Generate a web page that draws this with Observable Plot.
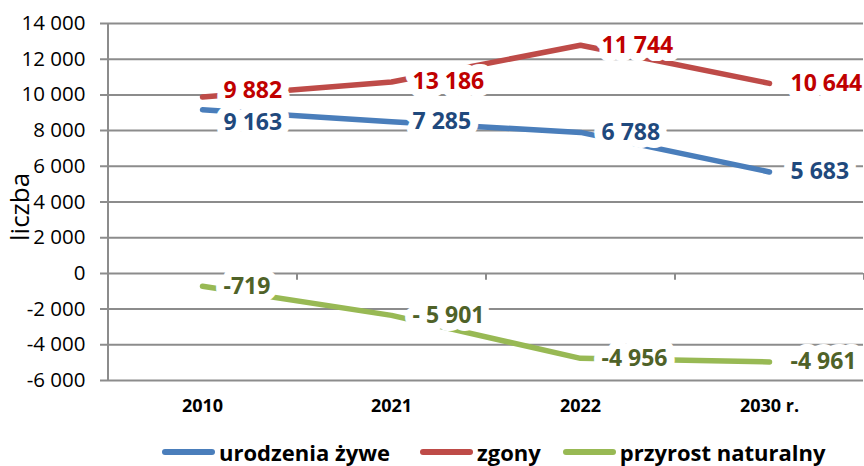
<!DOCTYPE html>
<html><head><meta charset="utf-8">
<script src="https://cdn.jsdelivr.net/npm/d3@7"></script>
<script src="https://cdn.jsdelivr.net/npm/@observablehq/plot@0.6"></script>
<style>
body{margin:0;background:#fff;font-family:"Open Sans",sans-serif;}
#chart{position:relative;width:864px;height:466px;overflow:hidden;}
#legend{position:absolute;top:441px;left:162px;height:22px;line-height:22px;display:flex;align-items:center;font-weight:700;font-size:22px;color:#000;white-space:nowrap;}
.item{display:flex;align-items:center;margin-right:30px}
.item:nth-child(2){margin-right:22px}
.sw{display:inline-block;width:53px;height:6px;border-radius:3px;margin-right:4px}
</style></head><body><div id="chart"></div>
<script>
const categories = ["2010", "2021", "2022", "2030 r."];
const series = ["urodzenia żywe", "zgony", "przyrost naturalny"];
const births = [9163, 8500, 7900, 5683];
const deaths = [9882, 10720, 12780, 10644];
const naturalIncrease = [-719, -2350, -4760, -4961];
const birthLabels = ["9 163", "7 285", "6 788", "5 683"];
const deathLabels = ["9 882", "13 186", "11 744", "10 644"];
const increaseLabels = ["-719", "- 5 901", "-4 956", "-4 961"];
const yTicks = [-6000, -4000, -2000, 0, 2000, 4000, 6000, 8000, 10000, 12000, 14000];
const yTickLabels = ["-6 000", "-4 000", "-2 000", "0", "2 000", "4 000", "6 000", "8 000", "10 000", "12 000", "14 000"];

const lineColors = ["#4A7EBB", "#BE4B48", "#98B954"];
const labelColors = ["#1F497D", "#C00000", "#4F6228"];
const valueSets = [births, deaths, naturalIncrease];
const labelSets = [birthLabels, deathLabels, increaseLabels];

const rows = [];
valueSets.forEach((vals, s) => vals.forEach((v, i) => rows.push({series: series[s], s, year: categories[i], i, value: v, label: labelSets[s][i]})));

// label nudges (pixels) for the first category of births / deaths
const nudge = {"0-0": 13, "1-0": -6};
const labelMarks = [];
series.forEach((name, s) => {
  const groups = {};
  rows.filter(d => d.s === s).forEach(d => {
    const k = nudge[`${s}-${d.i}`] || 0;
    (groups[k] = groups[k] || []).push(d);
  });
  for (const [k, data] of Object.entries(groups)) {
    labelMarks.push(Plot.text(data, {
      x: "year", y: "value", text: "label", dx: 21, dy: +k,
      textAnchor: "start", fill: labelColors[s], stroke: "white", strokeWidth: 16,
      fontSize: 23, fontWeight: "bold"
    }));
  }
});

const plot = Plot.plot({
  width: 864, height: 430,
  marginTop: 23, marginBottom: 50, marginLeft: 107, marginRight: 1,
  style: {fontFamily: "'Open Sans', sans-serif", color: "#000", background: "#fff", overflow: "visible"},
  x: {type: "point", domain: categories, padding: 0.5},
  y: {domain: [-6000, 14000]},
  color: {domain: series, range: lineColors},
  marks: [
    Plot.gridY(yTicks, {stroke: "#8c8c8c", strokeOpacity: 1, strokeWidth: 2, insetLeft: -7}),
    Plot.ruleX(categories, {x: d => d, dx: 94.5, y1: 0, y2: -390, stroke: "#8c8c8c", strokeWidth: 2}),
    Plot.ruleX(categories.slice(0, 1), {x: d => d, dx: -94.5, y1: -6000, y2: 14000, stroke: "#8c8c8c", strokeWidth: 2}),
    Plot.axisY(yTicks, {tickSize: 0, tickPadding: 22, tickFormat: d => yTickLabels[yTicks.indexOf(d)], fontSize: 20.5, label: null}),
    Plot.axisX({tickSize: 0, tickPadding: 19, fontSize: 18, fontWeight: "bold", label: null}),
    Plot.text(["liczba"], {frameAnchor: "left", dx: -87, dy: 39, rotate: -90, fontSize: 26, text: d => d}),
    Plot.line(rows, {x: "year", y: "value", z: "series", stroke: "series", strokeWidth: 5.5, strokeLinecap: "round", strokeLinejoin: "round"}),
    ...labelMarks
  ]
});

const chart = document.getElementById("chart");
chart.appendChild(plot);
const legend = document.createElement("div");
legend.id = "legend";
series.forEach((name, s) => {
  const item = document.createElement("div");
  item.className = "item";
  const sw = document.createElement("span");
  sw.className = "sw";
  sw.style.background = lineColors[s];
  const t = document.createElement("span");
  t.textContent = name;
  item.appendChild(sw); item.appendChild(t);
  legend.appendChild(item);
});
chart.appendChild(legend);
</script>
</body></html>
